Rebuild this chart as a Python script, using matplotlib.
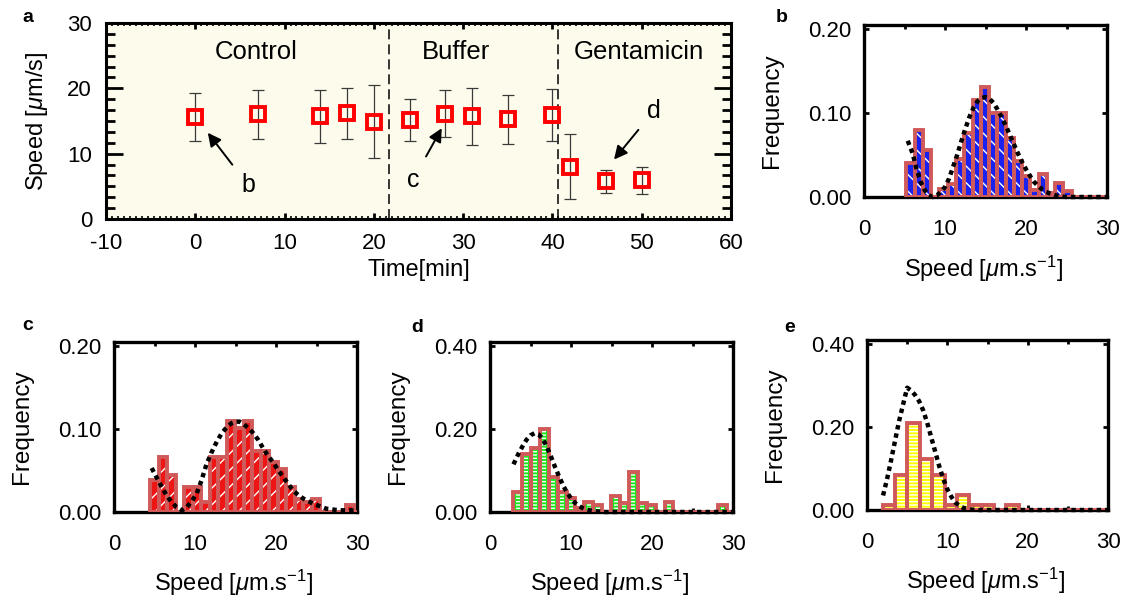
import matplotlib
matplotlib.use("Agg")
import numpy as np
import matplotlib.pyplot as plt
from matplotlib.ticker import MultipleLocator, FormatStrFormatter

plt.rcParams['font.family'] = ['Liberation Sans', 'DejaVu Sans']
plt.rcParams['mathtext.fontset'] = 'custom'
plt.rcParams['mathtext.rm'] = 'Liberation Sans'
plt.rcParams['mathtext.it'] = 'Liberation Sans:italic'
plt.rcParams['axes.unicode_minus'] = False
plt.rcParams['hatch.linewidth'] = 1.0

# ===== panel a: speed vs time =====
time_min = [0, 7, 14, 17, 20, 24, 28, 31, 35, 40, 42, 46, 50]
speed_mean = [15.6, 16.0, 15.7, 16.2, 14.9, 15.1, 16.1, 15.7, 15.3, 15.9, 8.0, 5.8, 5.9]
speed_err = [3.65, 3.7, 4.0, 3.9, 5.6, 3.2, 3.6, 4.4, 3.75, 3.95, 5.0, 1.75, 2.05]
phase_bounds = [21.7, 40.6]
phase_names = ['Control', 'Buffer', 'Gentamicin']
phase_x = [6.8, 29.2, 49.7]

# ===== panel b (control) =====
b_bin_start, b_bin_width = 5.24, 1.02
b_freq = [0.040, 0.080, 0.056, 0.0, 0.010, 0.015, 0.045, 0.076, 0.116, 0.131,
          0.100, 0.100, 0.070, 0.043, 0.025, 0.008, 0.028, 0.005, 0.017, 0.007,
          0.0, 0.0, 0.0, 0.0, 0.0]
b_fit_x = [5.4, 6.0, 6.5, 7.0, 7.5, 8.0, 8.5, 9.0, 9.5, 10.0, 10.5, 11.0, 11.5, 12.0,
           12.5, 13.0, 13.5, 14.0, 14.5, 15.0, 15.5, 16.0, 16.5, 17.0, 17.5, 18.0,
           18.5, 19.0, 19.5, 20.0, 20.5, 21.0, 21.5, 22.0, 22.5, 23.0, 24.0, 25.0, 30.0]
b_fit_y = [0.067, 0.052, 0.033, 0.018, 0.008, 0.002, 0.000, 0.002, 0.006, 0.012, 0.022,
           0.036, 0.050, 0.066, 0.081, 0.095, 0.106, 0.114, 0.118, 0.119, 0.117, 0.112,
           0.104, 0.095, 0.085, 0.074, 0.063, 0.052, 0.042, 0.033, 0.025, 0.018, 0.013,
           0.009, 0.006, 0.004, 0.001, 0.000, 0.000]

# ===== panel c (buffer) =====
c_bin_start, c_bin_width = 4.45, 1.05
c_freq = [0.038, 0.066, 0.045, 0.0, 0.030, 0.030, 0.012, 0.066, 0.066, 0.110,
          0.101, 0.110, 0.073, 0.073, 0.060, 0.052, 0.030, 0.016, 0.012, 0.016,
          0.0, 0.0, 0.0, 0.009, 0.0]
c_fit_x = [4.65, 5.3, 5.9, 6.5, 7.1, 7.7, 8.4, 9.0, 9.6, 10.2, 10.8, 11.4, 12.0, 12.7,
           13.3, 13.9, 14.5, 15.0, 15.5, 16.0, 16.6, 17.2, 17.8, 18.4, 19.0, 19.7, 20.3,
           20.9, 21.5, 22.1, 22.8, 23.4, 24.0, 24.6, 25.4, 26.2, 27.0, 27.9, 28.8, 29.8]
c_fit_y = [0.053, 0.041, 0.030, 0.020, 0.012, 0.006, 0.002, 0.006, 0.013, 0.022, 0.038,
           0.057, 0.071, 0.085, 0.095, 0.102, 0.107, 0.109, 0.109, 0.106, 0.101, 0.095,
           0.087, 0.077, 0.068, 0.059, 0.050, 0.042, 0.034, 0.026, 0.020, 0.016, 0.013,
           0.010, 0.007, 0.004, 0.003, 0.002, 0.002, 0.002]

# ===== panel d (gentamicin, early) =====
d_bin_start, d_bin_width = 2.85, 1.1
d_freq = [0.049, 0.141, 0.154, 0.200, 0.084, 0.049, 0.033, 0.009, 0.025, 0.016,
          0.0, 0.038, 0.021, 0.096, 0.021, 0.016, 0.0, 0.025, 0.0, 0.0,
          0.0, 0.0, 0.0, 0.016, 0.0]
d_fit_x = [2.9, 3.5, 4.0, 4.5, 5.0, 5.5, 6.0, 6.5, 7.0, 7.5, 8.0, 8.5, 9.0, 9.5, 10.0,
           10.5, 11.0, 11.5, 12.0, 13.0, 14.0, 30.0]
d_fit_y = [0.115, 0.140, 0.158, 0.174, 0.185, 0.190, 0.187, 0.177, 0.158, 0.135, 0.110,
           0.087, 0.065, 0.047, 0.033, 0.022, 0.014, 0.009, 0.005, 0.002, 0.000, 0.000]

# ===== panel e (gentamicin, late) =====
e_bin_start, e_bin_width = 1.95, 1.54
e_freq = [0.012, 0.085, 0.209, 0.122, 0.085, 0.011, 0.036, 0.012, 0.012, 0.0,
          0.012, 0.0, 0.0, 0.0, 0.0, 0.0, 0.0, 0.0, 0.0]
e_fit_x = [2.0, 2.5, 3.0, 3.5, 4.0, 4.5, 5.0, 5.5, 6.0, 6.5, 7.0, 7.5, 8.0, 8.5, 9.0,
           9.5, 10.0, 10.5, 11.0, 11.5, 12.0, 13.0, 14.0, 30.0]
e_fit_y = [0.035, 0.075, 0.120, 0.168, 0.215, 0.255, 0.295, 0.288, 0.277, 0.262, 0.240,
           0.210, 0.175, 0.140, 0.105, 0.075, 0.050, 0.032, 0.018, 0.010, 0.005, 0.001,
           0.000, 0.000]

W, H = 1125, 599
fig = plt.figure(figsize=(W / 100, H / 100), dpi=100)


def px_axes(left, top, right, bottom):
    return fig.add_axes([left / W, 1 - bottom / H, (right - left) / W, (bottom - top) / H])


def letter(x, y, s):
    fig.text(x / W, 1 - y / H, s, ha='center', va='center', fontsize=14, fontweight='bold')


# ================= panel a =================
ax = px_axes(106, 23, 731, 219)
ax.set_facecolor('#fdfcec')
ax.errorbar(time_min, speed_mean, yerr=speed_err, fmt='none', ecolor='#3a3a3a',
            elinewidth=0.9, capsize=4.5, capthick=0.9, zorder=2)
ax.plot(time_min, speed_mean, ls='none', marker='s', ms=10, mfc='none',
        mec='#ff0000', mew=2.8, zorder=3)
for xb in phase_bounds:
    ax.axvline(xb, color='black', lw=1.1, ls=(0, (6.5, 3.3)), zorder=1)
for name, xp in zip(phase_names, phase_x):
    ax.text(xp, 25.6, name, ha='center', va='center', fontsize=18.5)

arrow = dict(arrowstyle='-|>', color='black', lw=1.4, mutation_scale=20, shrinkA=7, shrinkB=0)
ax.annotate('b', xy=(1.4, 13.2), xytext=(5.9, 5.2), ha='center', va='center',
            fontsize=18, arrowprops=arrow)
ax.annotate('c', xy=(27.6, 13.9), xytext=(24.4, 6.0), ha='center', va='center',
            fontsize=18, arrowprops=arrow)
ax.annotate('d', xy=(46.9, 9.1), xytext=(51.4, 16.6), ha='center', va='center',
            fontsize=18, arrowprops=arrow)

ax.set_xlim(-10, 60)
ax.set_ylim(0, 30)
ax.xaxis.set_major_locator(MultipleLocator(10))
ax.xaxis.set_minor_locator(MultipleLocator(10 / 15))
ax.yaxis.set_major_locator(MultipleLocator(10))
ax.yaxis.set_minor_locator(MultipleLocator(10 / 6))
ax.tick_params(axis='y', which='major', direction='in', length=12, width=2,
               left=True, right=True, labelsize=16, pad=10)
ax.tick_params(axis='y', which='minor', direction='in', length=6.5, width=2,
               left=True, right=True)
ax.tick_params(axis='x', which='major', direction='in', length=4.5, width=2,
               top=True, bottom=True, labelsize=16, pad=10)
ax.tick_params(axis='x', which='minor', direction='in', length=2, width=1.2,
               top=True, bottom=True)
for sp in ax.spines.values():
    sp.set_linewidth(2.2)
ax.set_xlabel('Time[min]', fontsize=17, va='center')
ax.xaxis.set_label_coords(0.5, -0.26)
ax.set_ylabel(r'Speed [$\mu$m/s]', fontsize=17, va='center')
ax.yaxis.set_label_coords(-0.11, 0.5)
letter(28, 18, 'a')


# ================= histograms =================
def hist_panel(rect, start, width, freq, color, hatch, fit_x, fit_y, ytop, ystep, narrow=False):
    ax = px_axes(*rect)
    lefts = start + width * np.arange(len(freq))
    ax.bar(lefts, freq, width=width, align='edge', color=color, lw=0, zorder=3)
    if narrow:
        ax.bar(lefts + width * 0.28, freq, width=width * 0.44, align='edge', facecolor='none',
               edgecolor='white', hatch=hatch, lw=0, zorder=3)
    else:
        ax.bar(lefts, freq, width=width, align='edge', facecolor='none',
               edgecolor='white', hatch=hatch, lw=0, zorder=3)
    ax.bar(lefts, freq, width=width, align='edge', facecolor='none',
           edgecolor='#d05a5a', lw=2.8, zorder=3)
    ax.plot(fit_x, fit_y, color='black', lw=3.2, ls=(0, (1, 0.9)), dash_capstyle='butt',
            zorder=5, clip_on=False)
    ax.set_xlim(0, 30)
    ax.set_ylim(0, ytop)
    ax.set_xticks([0, 10, 20, 30])
    ax.xaxis.set_minor_locator(MultipleLocator(5))
    ax.set_yticks([0, ystep, 2 * ystep])
    ax.yaxis.set_major_formatter(FormatStrFormatter('%.2f'))
    ax.tick_params(which='major', direction='in', length=3.5, width=2, top=True,
                   right=True, labelsize=16)
    ax.tick_params(which='minor', direction='in', length=3, width=2, top=True, bottom=True)
    ax.tick_params(axis='x', pad=16)
    ax.tick_params(axis='y', pad=9)
    for sp in ax.spines.values():
        sp.set_linewidth(2.4)
    ax.set_xlabel(r'Speed [$\mu$m.s$^{\mathregular{-1}}$]', fontsize=17, va='center')
    ax.xaxis.set_label_coords(0.49, -0.42)
    ax.set_ylabel('Frequency', fontsize=17.5, va='center')
    ax.yaxis.set_label_coords(-0.38, 0.5)
    return ax


hist_panel((864, 25, 1107, 197), b_bin_start, b_bin_width, b_freq, '#1a22f0', '\\\\',
           b_fit_x, b_fit_y, 0.205, 0.10)
letter(782, 17, 'b')

hist_panel((114, 342, 357, 512), c_bin_start, c_bin_width, c_freq, '#ee1515', '//',
           c_fit_x, c_fit_y, 0.205, 0.10)
letter(28, 325, 'c')

hist_panel((490, 342, 733, 512), d_bin_start, d_bin_width, d_freq, '#1ee61e', '-----',
           d_fit_x, d_fit_y, 0.41, 0.20, narrow=True)
letter(417, 327, 'd')

hist_panel((867, 340, 1108, 510), e_bin_start, e_bin_width, e_freq, '#ffff00', '-----',
           e_fit_x, e_fit_y, 0.41, 0.20)
letter(790, 327, 'e')

fig.savefig('out.png', dpi=100)
